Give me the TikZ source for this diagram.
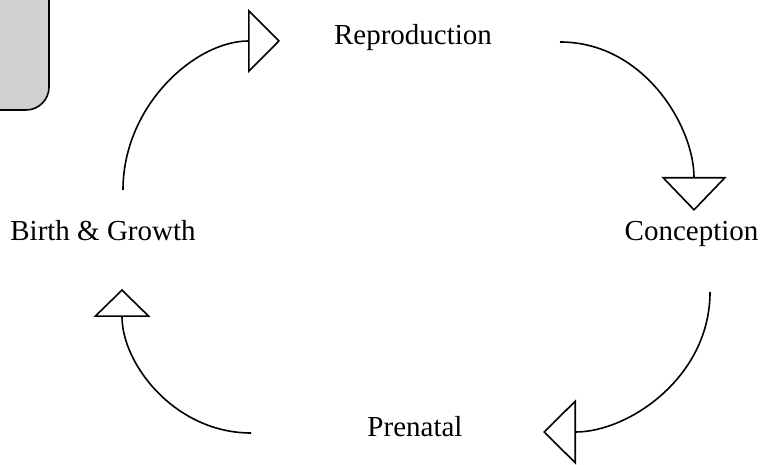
\documentclass[tikz,border=0pt]{standalone}
\usepackage{fontspec}
\setmainfont{Liberation Serif}
\usepackage{tikz}
\usetikzlibrary{arrows.meta, positioning}
\definecolor{boxgrey}{RGB}{208, 208, 208}
\tikzstyle{stage} = [
    inner sep=0pt,
    anchor=base,
    font=\fontsize{29}{34}\selectfont
]
\tikzstyle{cycle} = [
    line width=1.6pt,
    draw=black
]

\begin{document}
\begin{tikzpicture}[x=1pt, y=1pt]
        \useasboundingbox (0,0) rectangle (763,465);
        % Corner box
        \draw[line width=1.6pt, fill=boxgrey, rounded corners=23pt] (-40,355) rectangle (49,500);

        % Stages
        \node[stage] (repro) at (413, 420) {Reproduction};
        \node[stage] (concep) at (691.5, 224) {Conception};
        \node[stage] (prenat) at (415, 28) {Prenatal};
        \node[stage] (birth) at (103, 224) {Birth \& Growth};

        % Arc ends
        \coordinate (birth-out) at (123, 275);
        \coordinate (repro-in) at (280, 424);
        \coordinate (repro-out) at (560, 423);
        \coordinate (concep-in) at (694, 254);
        \coordinate (concep-out) at (710, 173);
        \coordinate (prenat-in) at (543, 33);
        \coordinate (prenat-out) at (251, 32);
        \coordinate (birth-in) at (122, 176);

        % Arrows
        \draw[cycle, -{Triangle[open, length=32pt, width=64pt]}] (birth-out) to[out=90, in=180] (repro-in);
        \draw[cycle, -{Triangle[open, length=34pt, width=65pt]}] (repro-out) to[out=0, in=90] (concep-in);
        \draw[cycle, -{Triangle[open, length=33pt, width=65pt]}] (concep-out) to[out=-90, in=0] (prenat-in);
        \draw[cycle, -{Triangle[open, length=28pt, width=57pt]}] (prenat-out) to[out=180, in=-90] (birth-in);
    \end{tikzpicture}
\end{document}
